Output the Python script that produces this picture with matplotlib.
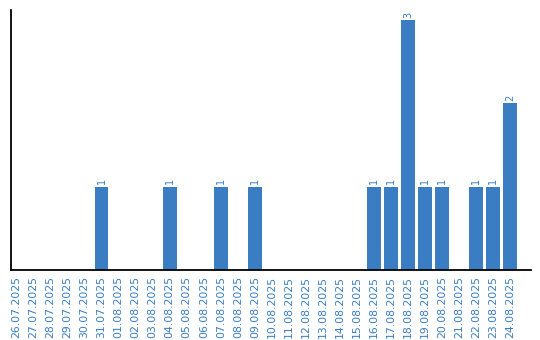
import matplotlib
matplotlib.use("Agg")
import matplotlib.pyplot as plt

dates = ["26.07.2025", "27.07.2025", "28.07.2025", "29.07.2025", "30.07.2025",
         "31.07.2025", "01.08.2025", "02.08.2025", "03.08.2025", "04.08.2025",
         "05.08.2025", "06.08.2025", "07.08.2025", "08.08.2025", "09.08.2025",
         "10.08.2025", "11.08.2025", "12.08.2025", "13.08.2025", "14.08.2025",
         "15.08.2025", "16.08.2025", "17.08.2025", "18.08.2025", "19.08.2025",
         "20.08.2025", "21.08.2025", "22.08.2025", "23.08.2025", "24.08.2025"]
counts = [0, 0, 0, 0, 0,
          1, 0, 0, 0, 1,
          0, 0, 1, 0, 1,
          0, 0, 0, 0, 0,
          0, 1, 1, 3, 1,
          1, 0, 1, 1, 2]

color = "#3a7dc3"

fig = plt.figure(figsize=(5.4, 3.4), dpi=100)
ax = fig.add_axes([10.5/540, 70/340, 520.2/540, 260/340])
x = list(range(len(dates)))
ax.bar(x, counts, width=0.8, color=color)
for xi, c in zip(x, counts):
    if c > 0:
        ax.text(xi, c + 0.03, str(c), rotation=90, ha="center", va="bottom",
                fontsize=7, color=color)
ax.set_xlim(-0.35, 30.2)
ax.set_ylim(0, 3.12)
ax.set_xticks(x)
ax.set_xticklabels(dates, rotation=90, fontsize=7.8, color=color)
ax.tick_params(axis="x", length=0, pad=4)
ax.set_yticks([])
for s in ["top", "right"]:
    ax.spines[s].set_visible(False)
for s in ["left", "bottom"]:
    ax.spines[s].set_linewidth(1.3)
    ax.spines[s].set_color("black")
fig.savefig("out.png", dpi=100)
